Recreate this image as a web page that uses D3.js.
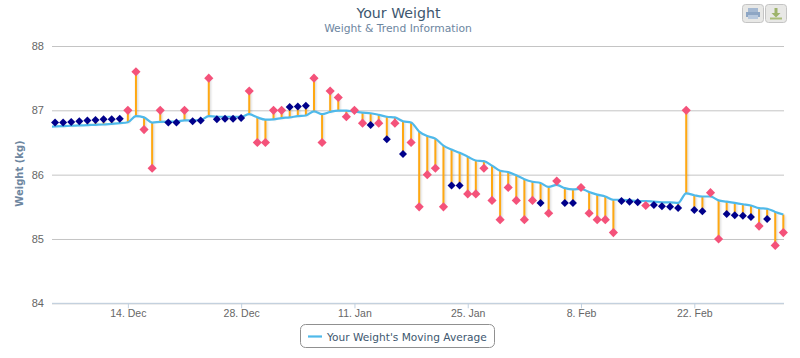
<!DOCTYPE html>
<html>
<head>
<meta charset="utf-8">
<script src="https://cdnjs.cloudflare.com/ajax/libs/d3/7.8.5/d3.min.js"></script>
<style>
html, body { margin: 0; padding: 0; background: #fff; }
svg { display: block; font-family: "DejaVu Sans", sans-serif; }
.stems line { filter: drop-shadow(1px 1px 1px rgba(0,0,0,0.18)); }
</style>
</head>
<body>
<script>
var w = 800;
var h = 358;

// first day that has a weight reading
var firstDay = new Date(Date.UTC(2012, 11, 5));

var xTicks = [
    new Date(Date.UTC(2012, 11, 14)),
    new Date(Date.UTC(2012, 11, 28)),
    new Date(Date.UTC(2013, 0, 11)),
    new Date(Date.UTC(2013, 0, 25)),
    new Date(Date.UTC(2013, 1, 8)),
    new Date(Date.UTC(2013, 1, 22))
];
var yTicks = [84, 85, 86, 87, 88];

// daily weight, one per day from firstDay
var weight = [
    86.81, 86.81, 86.82, 86.83, 86.84, 86.85, 86.86, 86.86, 86.87, 87.0,
    87.6, 86.7, 86.1, 87.0, 86.81, 86.81, 87.0, 86.83, 86.84, 87.5,
    86.86, 86.87, 86.87, 86.88, 87.3, 86.5, 86.5, 87.0, 87.0, 87.05,
    87.06, 87.07, 87.5, 86.5, 87.3, 87.2, 86.9, 87.0, 86.8, 86.77,
    86.8, 86.55, 86.8, 86.32, 86.5, 85.5, 86.0, 86.1, 85.5, 85.83,
    85.83, 85.7, 85.7, 86.1, 85.6, 85.3, 85.8, 85.6, 85.3, 85.6,
    85.56, 85.4, 85.9, 85.56, 85.56, 85.8, 85.4, 85.3, 85.3, 85.1,
    85.59, 85.58, 85.57, 85.52, 85.53, 85.51, 85.5, 85.48, 87.0, 85.45,
    85.43, 85.72, 85.0, 85.39, 85.37, 85.36, 85.34, 85.2, 85.31, 84.9,
    85.1
];

// moving average, same days as weight
var trend = [
    86.75, 86.755, 86.76, 86.765, 86.77, 86.775, 86.78, 86.79, 86.8, 86.815,
    86.91, 86.89, 86.81, 86.82, 86.825, 86.825, 86.845, 86.845, 86.85, 86.91,
    86.9, 86.9, 86.9, 86.9, 86.94, 86.89, 86.855, 86.86, 86.88, 86.89,
    86.91, 86.92, 86.985, 86.94, 86.975, 86.995, 86.995, 86.98, 86.965, 86.955,
    86.93, 86.9, 86.89, 86.83, 86.81, 86.67, 86.6, 86.56, 86.45, 86.39,
    86.34, 86.28, 86.22, 86.21, 86.14, 86.06, 86.04, 85.99, 85.93, 85.89,
    85.87, 85.81, 85.84, 85.79, 85.77, 85.78, 85.73, 85.69, 85.66, 85.61,
    85.61, 85.6, 85.59, 85.59, 85.58, 85.57, 85.57, 85.56, 85.71, 85.68,
    85.66, 85.66, 85.6, 85.58, 85.56, 85.54, 85.52, 85.48, 85.47, 85.42,
    85.38
];

// the day before firstDay, the line runs off the left side of the plot
var trendBefore = 86.745;

// days with no real reading, drawn dark blue
var estimatedDays = [
    0, 1, 2, 3, 4, 5, 6, 7, 8, 14, 15, 17, 18, 20, 21, 22, 23, 29, 30, 31,
    39, 41, 43, 49, 50, 60, 63, 64, 70, 71, 72, 74, 75, 76, 77, 79, 80,
    83, 84, 85, 86, 88
];

var dayOf = function (i) { return d3.utcDay.offset(firstDay, i); };

var plotLeft = 52, plotRight = 784, plotTop = 46, plotBottom = 303.3;

var svg = d3.select("body")
            .append("svg")
            .attr("width", w)
            .attr("height", h);

svg.append("defs")
   .append("clipPath")
   .attr("id", "plot-clip")
   .append("rect")
   .attr("x", plotLeft)
   .attr("y", plotTop - 10)
   .attr("width", plotRight - plotLeft + 4)
   .attr("height", plotBottom - plotTop + 20);

// domain goes a bit past the first and last day so markers sit inside the plot
var xScale = d3.scaleUtc()
               .domain([new Date(Date.UTC(2012, 11, 4, 15)), new Date(Date.UTC(2013, 2, 5, 2))])
               .range([plotLeft, plotRight]);

var yScale = d3.scaleLinear()
               .domain([84, 88])
               .range([plotBottom, plotTop]);

// y axis with the grid lines
var yAxis = d3.axisLeft(yScale)
              .tickValues(yTicks)
              .tickFormat(d3.format("d"))
              .tickSize(-(plotRight - plotLeft))
              .tickPadding(8);

var yG = svg.append("g")
            .attr("transform", "translate(" + plotLeft + ",0)")
            .call(yAxis);
yG.select(".domain").remove();
yG.selectAll("line").attr("stroke", "#c4c4c4");
yG.selectAll("text")
  .attr("fill", "#666")
  .style("font-size", "11px");

// x axis
var xAxis = d3.axisBottom(xScale)
              .tickValues(xTicks)
              .tickFormat(d3.utcFormat("%-d. %b"))
              .tickSize(5)
              .tickPadding(1);

var xG = svg.append("g")
            .attr("transform", "translate(0," + plotBottom + ")")
            .call(xAxis);
xG.select(".domain")
  .attr("stroke", "#c0d0e0")
  .attr("d", "M" + plotLeft + ",0H" + plotRight);
xG.selectAll("line").attr("stroke", "#c0d0e0");
xG.selectAll("text")
  .attr("fill", "#666")
  .style("font-size", "10.5px");

// stems between the moving average and the weight
svg.append("g")
   .attr("class", "stems")
   .selectAll("line")
   .data(weight)
   .enter()
   .append("line")
   .attr("x1", function (d, i) { return xScale(dayOf(i)); })
   .attr("x2", function (d, i) { return xScale(dayOf(i)); })
   .attr("y1", function (d, i) { return yScale(trend[i]); })
   .attr("y2", function (d) { return yScale(d); })
   .attr("stroke", "#ffa812")
   .attr("stroke-width", 2);

// moving average line
var trendPoints = [[dayOf(-1), trendBefore]].concat(trend.map(function (d, i) {
    return [dayOf(i), d];
}));

var trendLine = d3.line()
                  .x(function (d) { return xScale(d[0]); })
                  .y(function (d) { return yScale(d[1]); })
                  .curve(d3.curveMonotoneX);

svg.append("path")
   .datum(trendPoints)
   .attr("clip-path", "url(#plot-clip)")
   .attr("fill", "none")
   .attr("stroke", "#4fb9ea")
   .attr("stroke-width", 2.2)
   .attr("d", trendLine);

// weight markers, diamonds
var diamond = d3.symbol().type(d3.symbolSquare);

svg.append("g")
   .selectAll("path")
   .data(weight)
   .enter()
   .append("path")
   .attr("d", function (d, i) {
       return diamond.size(estimatedDays.indexOf(i) >= 0 ? 32 : 42)();
   })
   .attr("transform", function (d, i) {
       return "translate(" + xScale(dayOf(i)) + "," + yScale(d) + ") rotate(45)";
   })
   .attr("fill", function (d, i) {
       return estimatedDays.indexOf(i) >= 0 ? "#00008b" : "#f4527a";
   });

// titles
svg.append("text")
   .attr("x", 398.5)
   .attr("y", 18)
   .attr("text-anchor", "middle")
   .attr("fill", "#3e576f")
   .style("font-size", "14.2px")
   .text("Your Weight");

svg.append("text")
   .attr("x", 398)
   .attr("y", 32)
   .attr("text-anchor", "middle")
   .attr("fill", "#6d869f")
   .style("font-size", "10.75px")
   .text("Weight & Trend Information");

svg.append("text")
   .attr("transform", "translate(23,173.5) rotate(-90)")
   .attr("text-anchor", "middle")
   .attr("fill", "#6d869f")
   .style("font-size", "10px")
   .style("font-weight", "bold")
   .text("Weight (kg)");

// legend
var legend = svg.append("g");

legend.append("rect")
      .attr("x", 300.5)
      .attr("y", 324.5)
      .attr("width", 194)
      .attr("height", 23)
      .attr("rx", 5)
      .attr("fill", "#fff")
      .attr("stroke", "#909090");

legend.append("line")
      .attr("x1", 308)
      .attr("x2", 322)
      .attr("y1", 336.5)
      .attr("y2", 336.5)
      .attr("stroke", "#4fb9ea")
      .attr("stroke-width", 2.2);

legend.append("text")
      .attr("x", 327)
      .attr("y", 340.5)
      .attr("fill", "#3e576f")
      .style("font-size", "10.6px")
      .text("Your Weight's Moving Average");

// export buttons, top right
var buttons = svg.append("g");

[742, 765].forEach(function (bx) {
    buttons.append("rect")
           .attr("x", bx + 0.5)
           .attr("y", 4.5)
           .attr("width", 21)
           .attr("height", 18)
           .attr("rx", 3)
           .attr("fill", "#e8e8e6")
           .attr("stroke", "#c4c4c4");
});

// printer icon
buttons.append("rect").attr("x", 748).attr("y", 8).attr("width", 10).attr("height", 4).attr("fill", "#a5b9d2");
buttons.append("rect").attr("x", 746).attr("y", 12).attr("width", 14).attr("height", 5).attr("fill", "#8ea6c4");
buttons.append("rect").attr("x", 748).attr("y", 15).attr("width", 10).attr("height", 4).attr("fill", "#b7c8dd");

// download icon
buttons.append("rect").attr("x", 774.5).attr("y", 8).attr("width", 3).attr("height", 5).attr("fill", "#9db36a");
buttons.append("path").attr("d", "M771.5,13h9l-4.5,4.5z").attr("fill", "#9db36a");
buttons.append("rect").attr("x", 770).attr("y", 17.5).attr("width", 12).attr("height", 2).attr("fill", "#a9bd78");
</script>
</body>
</html>
